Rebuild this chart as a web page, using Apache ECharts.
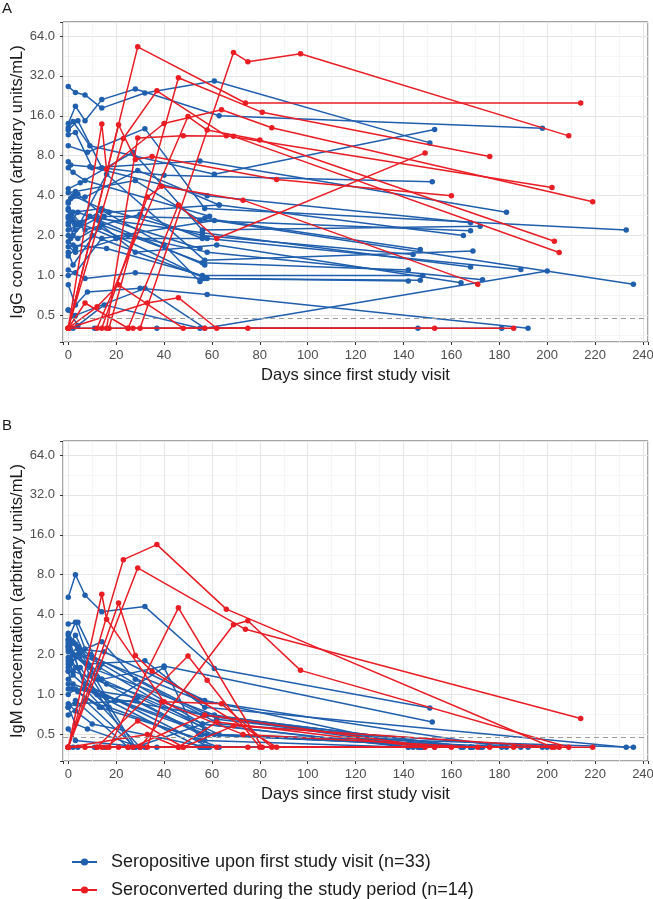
<!DOCTYPE html>
<html><head><meta charset="utf-8">
<script src="https://cdn.jsdelivr.net/npm/echarts@6/dist/echarts.min.js"></script>
<style>html,body{margin:0;padding:0;background:#fff}#c{width:653px;height:899px}</style>
</head><body><div id="c"></div>
<script>
const blueName = 'Seropositive upon first study visit (n=33)';
const redName = 'Seroconverted during the study period (n=14)';
const yTickValues = [0.5, 1, 2, 4, 8, 16, 32, 64];
const yTickLabels = ['0.5', '1.0', '2.0', '4.0', '8.0', '16.0', '32.0', '64.0'];
const xTickValues = [0, 20, 40, 60, 80, 100, 120, 140, 160, 180, 200, 220, 240];
const cutoff = 0.48;
const yRange = [0.315, 81.6];
const xRange = [-2.2, 242.1];

// Seroconverted subjects (red)
const redDays = [
 [0,29,74,214],
 [30,69,75,97,209],
 [17,46,81,176],
 [0,23,37,66,202],
 [0,14,16,40,64,85,219],
 [0,21,28,35,87,160],
 [12,50,58,80,203],
 [0,7,25,75],
 [0,33,46,62],
 [25,46,62,149],
 [16,29,48,69,205],
 [14,33,39,73,171],
 [0,27,57,153],
 [0,12,21,48,186]
];
const redIgG = [
 [0.4,53,20,20],
 [0.4,48,41,47,11.3],
 [0.4,31,17,7.9],
 [0.4,10.8,24.7,11.3,4.6],
 [0.4,13.9,6.3,14,17.8,13,3.6],
 [0.4,13.7,7.5,7.9,5.3,4.0],
 [0.4,15.8,12.5,10.5,1.81],
 [0.4,0.62,0.4,0.4],
 [0.4,0.62,0.68,0.4],
 [0.4,3.4,1.9,8.4],
 [0.4,10.9,11.3,11.2,1.49],
 [0.4,3.9,4.7,3.7,0.86],
 [0.4,0.4,0.4,0.4],
 [0.4,0.58,0.85,0.4,0.4]
];
const redIgM = [
 [0.4,9,3.1,0.66],
 [0.4,3.36,3.6,1.52,0.4],
 [0.4,4.5,0.4,0.4],
 [0.4,10.4,13.5,4.4,0.4],
 [0.4,5.7,3.7,0.88,0.85,0.4,0.4],
 [0.4,4.9,1.97,1.5,0.4,0.4],
 [0.4,1.95,1.28,0.4,0.4],
 [0.4,0.4,0.4,0.4],
 [0.4,0.5,0.4,0.4],
 [0.4,0.4,0.62,0.4],
 [0.4,0.63,0.4,0.58,0.4],
 [0.4,0.4,0.88,0.5,0.4],
 [0.4,0.4,0.7,0.4],
 [0.4,0.4,0.4,0.4,0.4]
];

// Seropositive subjects (blue)
const blueDays = [
 [0,3,7,14,32,61,151],
 [0,3,7,14,28,63,198],
 [0,2,9,61,153],
 [0,4,14,40,152],
 [0,3,10,55,183],
 [0,8,32,57,233],
 [0,1,9,58,168],
 [0,5,27,56,172],
 [0,3,28,55,168],
 [1,7,29,63,165],
 [0,4,15,57,147],
 [0,2,14,56,144],
 [1,5,16,57,169],
 [0,3,12,56,168],
 [0,2,20,58,189],
 [0,3,32,57,200],
 [0,4,14,56,142],
 [0,2,16,56,148],
 [0,3,25,58,173],
 [0,2,13,57,142],
 [0,7,28,56,147],
 [0,3,14,61,236],
 [0,3,8,30,58,192],
 [0,4,15,55,146],
 [0,2,11,37,181],
 [0,2,9,28,62,164],
 [0,1,7,30,56],
 [0,4,13,57],
 [1,3,12,55],
 [0,2,17,63],
 [0,3,10,58],
 [0,2,7,59],
 [0,4,14,40,55]
];
const blueIgG = [
 [26.6,24,23,18.3,23.8,29.3,10],
 [14,18.9,14.7,21.2,25.5,16,12.9],
 [13,14.5,9.5,5.8,12.6],
 [12.5,14.7,6.5,5.7,5.1],
 [11.5,12,6.5,7.3,3.0],
 [9.5,8.5,12.8,3.2,2.2],
 [7.2,6.8,6.6,4.0,2.5],
 [4.5,5.0,8.5,2.2,2.35],
 [4.2,4.3,5.2,2.6,2.17],
 [3.8,3.9,6.2,3.4,2.0],
 [3.5,4.1,2.8,2.7,1.57],
 [3.2,3.0,3.2,2.0,1.44],
 [3.0,2.5,5.8,1.3,1.53],
 [2.8,2.2,2.7,2.1,1.16],
 [2.5,2.6,1.9,1.9,1.11],
 [0.55,0.5,0.8,0.4,1.08],
 [2.0,1.9,2.4,1.25,1.1],
 [1.8,1.7,1.6,1.0,1.0],
 [1.65,1.5,2.0,1.5,0.93],
 [1.5,1.2,2.3,0.95,0.91],
 [1.1,0.95,1.05,0.95,0.92],
 [1.0,1.05,1.9,2.6,0.86],
 [0.85,0.6,0.75,0.8,0.72,0.4],
 [0.55,0.42,0.6,0.4,0.4],
 [0.4,0.4,0.4,0.4,0.4],
 [2.7,2.0,2.8,1.5,1.7,0.88],
 [3.1,2.8,2.2,2.9,1.9],
 [2.4,3.0,2.6,1.2],
 [1.9,2.5,2.8,1.6],
 [3.6,4.0,3.0,3.4],
 [1.4,1.6,2.0,0.95],
 [6.5,6.0,5.2,2.8],
 [2.2,2.4,3.1,1.7,0.9]
];
const blueIgM = [
 [5.4,8,5.6,4.2,4.6,1.57,0.79],
 [2.6,3.5,2.2,2.5,1.3,0.6,0.4],
 [2.3,2.0,1.6,0.7,0.4],
 [1.9,2.3,1.3,1.64,0.62],
 [2.9,2.4,1.9,0.9,0.4],
 [2.2,1.7,1.8,0.8,0.4],
 [1.7,1.8,2.0,0.7,0.4],
 [1.5,1.6,0.4,0.4,0.4],
 [0.8,0.85,0.9,0.5,0.4],
 [1.1,1.1,0.95,0.5,0.4],
 [2.8,2.2,2.1,0.9,0.4],
 [2.4,2.0,1.3,0.6,0.4],
 [1.7,2.1,0.95,0.7,0.4],
 [2.3,2.8,1.3,0.5,0.4],
 [1.2,1.2,0.9,0.5,0.4],
 [0.55,0.45,0.4,0.4,0.4],
 [1.6,2.0,1.7,0.6,0.4],
 [1.8,1.5,1.2,0.7,0.4],
 [0.8,0.9,0.4,0.4,0.4],
 [1.5,1.1,0.8,0.45,0.4],
 [0.7,0.9,0.4,0.4,0.4],
 [1.0,1.1,1.0,0.5,0.4],
 [0.8,0.6,0.55,0.4,0.4,0.4],
 [0.4,0.4,0.4,0.4,0.4],
 [0.4,0.4,0.4,0.4,0.4],
 [2.1,2.5,1.4,0.4,0.65,0.4],
 [2.6,2.4,1.1,0.4,0.4],
 [3.4,3.5,1.6,0.55],
 [1.9,1.6,1.0,0.4],
 [1.3,1.4,0.8,0.4],
 [0.85,0.75,0.6,0.4],
 [2.5,2.0,1.2,0.4],
 [1.1,1.05,0.8,1.6,0.45]
];

const BLUE = '#1f5fae';
const RED = '#ea1c24';
const FONT = '"Liberation Sans", Arial, sans-serif';

const chart = echarts.init(document.getElementById('c'), null, {renderer: 'canvas'});

function yFmt(v) {
  const e = Math.round(v);
  if (Math.abs(v - e) > 1e-6) return '';
  const idx = yTickValues.findIndex(t => Math.abs(Math.log2(t) - e) < 1e-6);
  return idx >= 0 ? yTickLabels[idx] : '';
}
function xFmt(v) {
  return xTickValues.some(t => Math.abs(t - v) < 1e-6) ? String(v) : '';
}

const grids = [
  {left: 63, top: 22, right: 5, height: 320, containLabel: false, outerBoundsMode: 'none', show: true, borderColor: '#4d4d4d', borderWidth: 1, backgroundColor: 'transparent'},
  {left: 63, top: 441, right: 5, height: 320, containLabel: false, outerBoundsMode: 'none', show: true, borderColor: '#4d4d4d', borderWidth: 1, backgroundColor: 'transparent'}
];

function xAxis(gi) {
  return {
    type: 'value', gridIndex: gi, min: xRange[0], max: xRange[1], splitNumber: 12,
    name: 'Days since first study visit', nameLocation: 'middle', nameGap: 25,
    nameTextStyle: {fontSize: 16.5, color: '#1a1a1a', fontFamily: FONT},
    axisLine: {show: false, onZero: false},
    axisTick: {show: true, length: 3, lineStyle: {color: '#333'}},
    axisLabel: {formatter: xFmt, fontSize: 13, color: '#4d4d4d', fontFamily: FONT, margin: 7},
    splitLine: {show: true, lineStyle: {color: '#e5e5e5', width: 1}},
    minorTick: {show: false, splitNumber: 2},
    minorSplitLine: {show: true, lineStyle: {color: '#f2f2f2', width: 0.8}}
  };
}
function yAxis(gi, title) {
  return {
    type: 'value', gridIndex: gi, min: Math.log2(yRange[0]), max: Math.log2(yRange[1]), splitNumber: 8,
    name: title, nameLocation: 'middle', nameGap: 37, nameMoveOverlap: false,
    nameTextStyle: {fontSize: 16.5, color: '#1a1a1a', fontFamily: FONT},
    axisLine: {show: false, onZero: false},
    axisTick: {show: true, length: 3, lineStyle: {color: '#333'}},
    axisLabel: {formatter: yFmt, fontSize: 13, color: '#4d4d4d', fontFamily: FONT, margin: 8},
    splitLine: {show: true, lineStyle: {color: '#e5e5e5', width: 1}},
    minorTick: {show: false, splitNumber: 2},
    minorSplitLine: {show: true, lineStyle: {color: '#f2f2f2', width: 0.8}}
  };
}

function mk(days, vals, name, color, gi, z) {
  return {
    type: 'line', name: name, xAxisIndex: gi, yAxisIndex: gi,
    data: days.map((d, i) => [d, Math.log2(vals[i])]),
    symbol: 'circle', symbolSize: 5.5, showSymbol: true,
    lineStyle: {width: 1.5, color: color}, itemStyle: {color: color},
    emphasis: {disabled: true}, silent: true, animation: false, z: z
  };
}

const series = [];
[0, 1].forEach(gi => {
  series.push({
    type: 'line', xAxisIndex: gi, yAxisIndex: gi, data: [], silent: true, animation: false, z: 1,
    markLine: {silent: true, symbol: 'none', label: {show: false},
      lineStyle: {color: '#9a9a9a', type: [5, 4], width: 1.2},
      data: [{yAxis: Math.log2(cutoff)}]}
  });
  const bv = gi === 0 ? blueIgG : blueIgM;
  const rv = gi === 0 ? redIgG : redIgM;
  blueDays.forEach((d, i) => series.push(mk(d, bv[i], blueName, BLUE, gi, 3)));
  redDays.forEach((d, i) => series.push(mk(d, rv[i], redName, RED, gi, 4)));
});

function legendFor(name, top) {
  return {
    orient: 'horizontal', left: 66, top: top, itemWidth: 25, itemHeight: 9,
    textStyle: {fontSize: 18, color: '#1a1a1a', fontFamily: FONT, padding: [0, 0, 0, 9]},
    data: [{name: name}], selectedMode: false
  };
}

chart.setOption({
  backgroundColor: '#ffffff',
  animation: false,
  textStyle: {fontFamily: FONT},
  grid: grids,
  xAxis: [xAxis(0), xAxis(1)],
  yAxis: [yAxis(0, 'IgG concentration (arbitrary units/mL)'), yAxis(1, 'IgM concentration (arbitrary units/mL)')],
  legend: [legendFor(blueName, 848), legendFor(redName, 876)],
  graphic: [
    {type: 'text', left: 2, top: 1, style: {text: 'A', fontSize: 15, fill: '#1a1a1a', fontFamily: FONT}},
    {type: 'text', left: 2, top: 418, style: {text: 'B', fontSize: 15, fill: '#1a1a1a', fontFamily: FONT}}
  ],
  series: series
});
</script>
</body></html>
